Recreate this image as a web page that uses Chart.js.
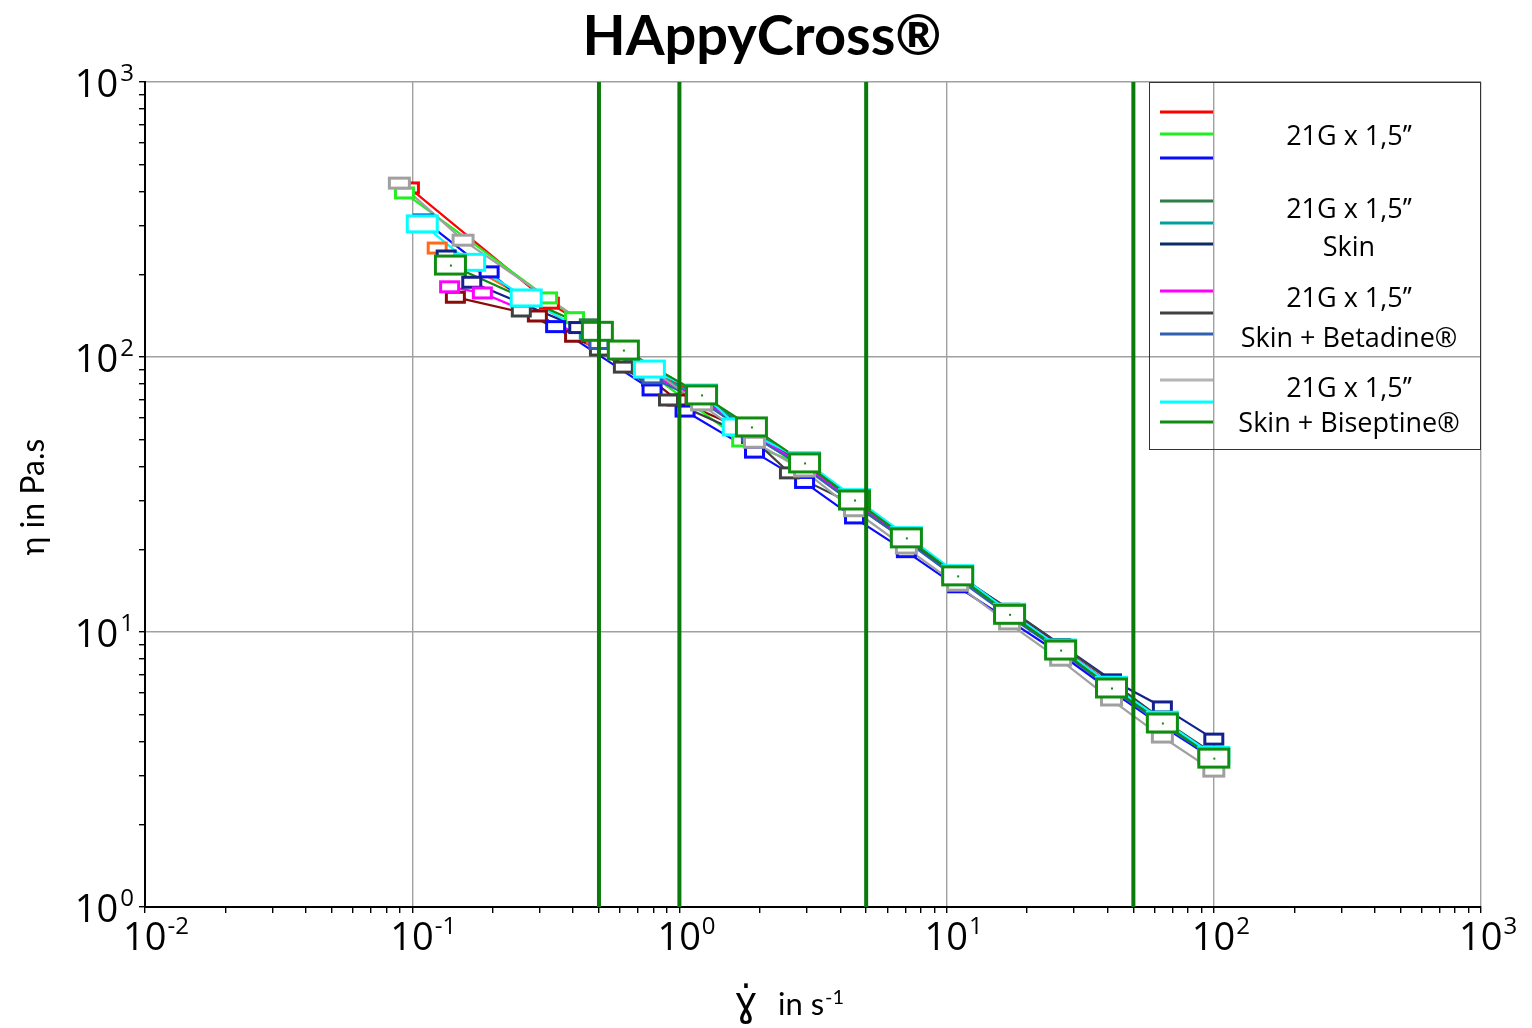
<!DOCTYPE html>
<html>
<head>
<meta charset="utf-8">
<script src="https://cdn.jsdelivr.net/npm/chart.js@4.4.0/dist/chart.umd.min.js"></script>
<style>
  html, body { margin: 0; padding: 0; background: #fff; }
  #wrap { width: 1532px; height: 1028px; }
</style>
</head>
<body>
<div id="wrap"><canvas id="flowChart" width="1532" height="1028"></canvas></div>
<script>
// ======================================
// DATA (shear rate in 1/s, viscosity in Pa.s)
// ======================================
const chartTitle = "HAppyCross®";

const redRate = [0.0976, 0.326, 0.51, 0.79, 1.21, 1.86, 2.94, 4.52, 7.07, 11.0, 17.2, 26.7, 41.4, 64.2, 100];
const redEta  = [412, 157, 121, 90, 72, 53.5, 40.5, 29.8, 21.9, 16.1, 11.9, 8.8, 6.4, 4.75, 3.55];

const limeRate = [0.0935, 0.321, 0.405, 0.79, 1.71, 2.94, 4.52, 7.07, 11.0, 17.2, 26.7, 41.4, 64.2, 100];
const limeEta  = [395, 164, 139, 86, 49.5, 40.2, 29.5, 21.6, 15.8, 11.5, 8.6, 6.3, 4.65, 3.5];

const blueRate = [0.11, 0.194, 0.344, 0.79, 1.05, 1.91, 2.94, 4.52, 7.07, 11.0, 17.2, 26.7, 41.4, 64.2, 100];
const blueEta  = [315, 204, 129, 75.9, 63.6, 45.1, 35.0, 26.0, 19.6, 14.6, 11.0, 8.3, 6.1, 4.55, 3.45];

const dkGreenRate = [0.46, 0.79, 1.21, 1.86, 2.94, 4.52, 7.07, 11.0, 17.2, 26.7, 41.4, 64.2, 100];
const dkGreenEta  = [131, 92, 73, 54.5, 40.5, 29.8, 21.8, 15.9, 11.7, 8.7, 6.3, 4.7, 3.55];

const tealRate = [0.46, 0.79, 1.21, 1.86, 2.94, 4.52, 7.07, 11.0, 17.2, 26.7, 41.4, 64.2, 100];
const tealEta  = [122, 88, 71, 54, 40, 29.5, 21.5, 15.7, 11.5, 8.6, 6.3, 4.7, 3.6];

const navyRate = [0.134, 0.167, 0.42, 0.79, 1.21, 1.86, 2.94, 4.52, 7.07, 11.0, 17.2, 26.7, 41.4, 64.2, 100];
const navyEta  = [233, 187, 128, 86, 70, 53.5, 40, 29.5, 21.8, 16.2, 12.0, 9.0, 6.7, 5.34, 4.08];

const magentaRate = [0.138, 0.183, 0.5, 0.79, 1.21, 1.86, 2.94, 4.52, 7.07, 11.0, 17.2, 26.7, 41.4, 64.2, 100];
const magentaEta  = [180, 171, 113, 86, 70, 53, 40, 29.6, 21.9, 16.0, 11.8, 8.8, 6.4, 4.75, 3.6];

const dkGrayRate = [0.256, 0.502, 0.617, 0.91, 1.86, 2.58, 4.52, 7.07, 11.0, 17.2, 26.7, 41.4, 64.2, 100];
const dkGrayEta  = [147, 106, 91.9, 69.8, 51, 37.9, 29, 21.5, 16.0, 12.1, 9.0, 6.6, 4.8, 3.6];

const steelRate = [0.5, 0.79, 1.21, 1.86, 2.94, 4.52, 7.07, 11.0, 17.2, 26.7, 41.4, 64.2, 100];
const steelEta  = [112, 84, 69, 52, 39.5, 29.2, 21.4, 15.6, 11.4, 8.5, 6.2, 4.6, 3.5];

const ltGrayRate = [0.0895, 0.155, 0.49, 1.21, 1.91, 2.94, 4.52, 7.07, 11.0, 17.2, 26.7, 41.4, 64.2, 100];
const ltGrayEta  = [429, 266, 124, 67, 49, 38.5, 27.6, 20.2, 14.8, 10.7, 7.9, 5.66, 4.15, 3.12];

const cyanRate = [0.109, 0.164, 0.267, 0.772, 1.21, 1.66, 2.94, 4.52, 7.07, 11.0, 17.2, 26.7, 41.4, 64.2, 100];
const cyanEta  = [305, 221, 164, 90.4, 74, 55.7, 42, 30.8, 22.4, 16.3, 11.8, 8.75, 6.4, 4.78, 3.56];

const greenRate = [0.139, 0.493, 0.617, 1.21, 1.86, 2.94, 4.52, 7.07, 11.0, 17.2, 26.7, 41.4, 64.2, 100];
const greenEta  = [216, 124, 106, 72.8, 55.7, 41.2, 30.2, 22.0, 16.0, 11.6, 8.6, 6.26, 4.67, 3.48];

const orangeRate = [0.124, 0.49, 0.79, 1.21, 1.86, 2.94, 4.52, 7.07, 11.0, 17.2, 26.7, 41.4, 64.2, 100];
const orangeEta  = [249, 117, 88, 71, 54, 40.5, 29.8, 21.8, 15.9, 11.7, 8.7, 6.3, 4.7, 3.55];

const maroonRate = [0.145, 0.294, 0.405, 0.786, 0.98, 1.86, 2.94, 4.52, 7.07, 11.0, 17.2, 26.7, 41.4, 64.2, 100];
const maroonEta  = [165, 141, 119, 82.5, 69.8, 53, 40, 29.6, 21.8, 16.0, 11.8, 8.8, 6.4, 4.7, 3.55];

// vertical markers (shear rates)
const limitRates = [0.5, 1, 5, 50];

// axis decades (tick labels are 10^n)
const xDecades = [-2, -1, 0, 1, 2, 3];
const yDecades = [0, 1, 2, 3];

const legendGroups = [
    ["21G x 1,5’’"],
    ["21G x 1,5’’", "Skin"],
    ["21G x 1,5’’", "Skin + Betadine®"],
    ["21G x 1,5’’", "Skin + Biseptine®"]
];

// ======================================
// STYLES
// ======================================
// drawn bottom -> top
const series = [
    { key: "orange",  rate: orangeRate,  eta: orangeEta,  color: "#ff6a1a" },
    { key: "maroon",  rate: maroonRate,  eta: maroonEta,  color: "#8b0a0a" },
    { key: "red",     rate: redRate,     eta: redEta,     color: "#ff0000" },
    { key: "lime",    rate: limeRate,    eta: limeEta,    color: "#22ee22" },
    { key: "blue",    rate: blueRate,    eta: blueEta,    color: "#0a0aff" },
    { key: "dkGreen", rate: dkGreenRate, eta: dkGreenEta, color: "#2e7d46" },
    { key: "teal",    rate: tealRate,    eta: tealEta,    color: "#00a0a0" },
    { key: "navy",    rate: navyRate,    eta: navyEta,    color: "#14208c" },
    { key: "magenta", rate: magentaRate, eta: magentaEta, color: "#ff00ff" },
    { key: "dkGray",  rate: dkGrayRate,  eta: dkGrayEta,  color: "#404040" },
    { key: "steel",   rate: steelRate,   eta: steelEta,   color: "#3060b0" },
    { key: "ltGray",  rate: ltGrayRate,  eta: ltGrayEta,  color: "#a0a0a0", w: 20, h: 10 },
    { key: "cyan",    rate: cyanRate,    eta: cyanEta,    color: "#00ffff", w: 30, h: 16 },
    { key: "green",   rate: greenRate,   eta: greenEta,   color: "#108c10", w: 30, h: 18, dot: true }
];
const legendKeys = ["red", "lime", "blue", "dkGreen", "teal", "navy",
                    "magenta", "dkGray", "steel", "ltGray", "cyan", "green"];
const legendLineColor = { ltGray: "#b4b4b4", navy: "#0d2b66" };
const limitColor = "#0a7a0a";

// box marker drawn into a small canvas, used as pointStyle
function boxMarker(color, w, h, lw, dot) {
    const c = document.createElement("canvas");
    c.width = w + lw + 2;
    c.height = h + lw + 2;
    const g = c.getContext("2d");
    g.fillStyle = "#fff";
    g.fillRect(1, 1, w + lw, h + lw);
    g.strokeStyle = color;
    g.lineWidth = lw;
    g.strokeRect(1 + lw / 2, 1 + lw / 2, w, h);
    if (dot) {
        g.fillStyle = color;
        g.fillRect(Math.round(c.width / 2) - 1, Math.round(c.height / 2) - 1, 2, 2);
    }
    return c;
}

const N = series.length;
const datasets = [];
series.forEach((s, i) => {
    const pts = s.rate.map((x, k) => ({ x: x, y: s.eta[k] }));
    // line pass (under every marker)
    datasets.push({
        data: pts, showLine: true, borderColor: s.color, borderWidth: 2.2,
        pointRadius: 0, order: 100 + N - i
    });
    // marker pass
    datasets.push({
        data: pts, showLine: false,
        pointStyle: boxMarker(s.color, s.w || 18, s.h || 10, 3, s.dot),
        pointRadius: 6, order: N - i
    });
});
limitRates.forEach(r => {
    datasets.push({
        data: [{ x: r, y: 1 }, { x: r, y: 1000 }], showLine: true,
        borderColor: limitColor, borderWidth: 4, pointRadius: 0, order: -1
    });
});

const decadeTicks = (decs) => {
    const out = [];
    decs.forEach((e, i) => {
        const base = Math.pow(10, e);
        if (i === decs.length - 1) { out.push({ value: base }); return; }
        for (let m = 1; m <= 9; m++) out.push({ value: m * base });
    });
    return out;
};
const isDecade = (v) => Math.abs(Math.log10(v) - Math.round(Math.log10(v))) < 1e-6;

// ======================================
// TEXT PLUGIN
// ======================================
const textPlugin = {
    id: "texts",
    afterDraw(chart) {
        const { ctx, scales: { x, y } } = chart;
        ctx.save();
        ctx.fillStyle = "#000";
        ctx.textBaseline = "alphabetic";

        // title
        ctx.font = "bold 56px Lato";
        ctx.textAlign = "center";
        ctx.fillText(chartTitle, 762, 55);

        // x tick labels
        xDecades.forEach(e => {
            const px = x.getPixelForValue(Math.pow(10, e));
            ctx.textAlign = "left";
            ctx.font = '38px "Open Sans"';
            ctx.fillText("10", px - 22, 950);
            const w = ctx.measureText("10").width;
            ctx.font = '24px "Open Sans"';
            ctx.fillText(String(e), px - 22 + w + 1, 934);
        });

        // y tick labels
        yDecades.forEach(e => {
            const py = y.getPixelForValue(Math.pow(10, e));
            ctx.textAlign = "right";
            ctx.font = '24px "Open Sans"';
            ctx.fillText(String(e), 134, py - 1);
            const w = ctx.measureText(String(e)).width;
            ctx.font = '38px "Open Sans"';
            ctx.fillText("10", 134 - w - 2, py + 15);
        });

        // axis titles
        ctx.textAlign = "left";
        ctx.font = '40px "DejaVu Sans"';
        ctx.fillText("\u0263\u0307", 734, 1015);
        ctx.font = '31px Lato';
        ctx.fillText("in s", 778, 1015);
        const ws = ctx.measureText("in s").width;
        ctx.font = '20px Lato';
        ctx.fillText("-1", 778 + ws + 1, 1004);

        ctx.save();
        ctx.translate(44, 497);
        ctx.rotate(-Math.PI / 2);
        ctx.font = '32px Lato';
        ctx.textAlign = "center";
        ctx.fillText("η in Pa.s", 0, 0);
        ctx.restore();

        // legend
        ctx.strokeStyle = "#333";
        ctx.lineWidth = 1;
        ctx.strokeRect(1149.5, 82.5, 331, 367);
        const lineYs = [112, 134, 158, 201, 223, 244, 291, 313, 334, 380, 402, 422];
        ctx.lineWidth = 3;
        legendKeys.forEach((k, i) => {
            const s = series.find(d => d.key === k);
            ctx.strokeStyle = legendLineColor[k] || s.color;
            ctx.beginPath();
            ctx.moveTo(1160, lineYs[i]);
            ctx.lineTo(1213, lineYs[i]);
            ctx.stroke();
        });
        const textYs = [[145], [218, 256], [307, 347], [397, 432]];
        ctx.font = '27px "Open Sans"';
        ctx.textAlign = "center";
        legendGroups.forEach((g, gi) => {
            g.forEach((t, ti) => ctx.fillText(t, 1349, textYs[gi][ti]));
        });
        ctx.restore();
    }
};

// ======================================
// CHART INIT
// ======================================
const gridColor = (c) => (c.tick && isDecade(c.tick.value)) ? "#a0a0a0" : "rgba(0,0,0,0)";

new Chart(document.getElementById("flowChart"), {
    type: "scatter",
    data: { datasets: datasets },
    options: {
        responsive: false,
        animation: false,
        devicePixelRatio: 1,
        layout: { padding: { left: 135, top: 82, right: 51, bottom: 111 } },
        plugins: { legend: { display: false }, tooltip: { enabled: false } },
        scales: {
            x: {
                type: "logarithmic", min: 0.01, max: 1000,
                afterBuildTicks: (s) => { s.ticks = decadeTicks(xDecades); },
                afterFit: (s) => { s.height = 10; },
                ticks: { display: false },
                grid: { color: gridColor, lineWidth: 1.4, tickColor: "#000", tickLength: 6, drawTicks: true },
                border: { color: "#000", width: 2 }
            },
            y: {
                type: "logarithmic", min: 1, max: 1000,
                afterBuildTicks: (s) => { s.ticks = decadeTicks(yDecades); },
                afterFit: (s) => { s.width = 10; },
                ticks: { display: false },
                grid: { color: gridColor, lineWidth: 1.4, tickColor: "#000", tickLength: 6, drawTicks: true },
                border: { color: "#000", width: 2 }
            }
        }
    },
    plugins: [textPlugin]
});
</script>
</body>
</html>
